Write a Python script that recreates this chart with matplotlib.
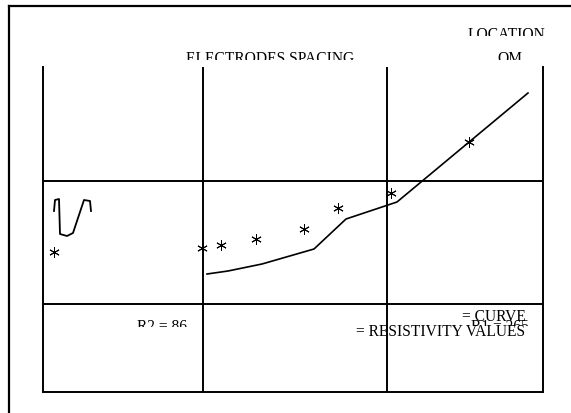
import matplotlib
matplotlib.use("Agg")
import matplotlib.pyplot as plt
from matplotlib.patches import Rectangle

plt.rcParams['font.family'] = ['Liberation Serif', 'DejaVu Serif']

# grid cells (chart units: x = spacing, y = resistivity, origin bottom-left)
col_edges = [160, 344]
row_edges = [88, 211]

# measured resistivity values (asterisks)
spacing_pts = [11, 159, 178, 213, 261, 295, 348, 426]
resist_pts = [140, 144, 147, 153, 163, 184, 199, 250]

# interpreted curve
curve_x = [164, 185, 219, 271, 303, 354, 485]
curve_y = [118, 121, 128, 143, 173, 190, 299]

# hand-drawn mark in the first cell
mark_x = [11, 12, 16, 17, 24, 30, 37, 41, 47, 48]
mark_y = [181, 192, 193, 158, 156, 159, 180, 192, 191, 181]

W, H = 571, 414
FS = 11.2
fig = plt.figure(figsize=(W / 100, H / 100), dpi=100)

ax = fig.add_axes([43 / W, 21 / H, 500 / W, 325 / H])
ax.set_xlim(0, 500)
ax.set_ylim(0, 325)
ax.set_xticks([])
ax.set_yticks([])
ax.spines['top'].set_visible(False)
for s in ['left', 'right', 'bottom']:
    ax.spines[s].set_linewidth(1.4)
for x in col_edges:
    ax.axvline(x, color='black', lw=1.4)
for y in row_edges:
    ax.axhline(y, color='black', lw=1.4)

ax.plot(curve_x, curve_y, color='black', lw=1.2)
ax.plot(mark_x, mark_y, color='black', lw=1.3)
ax.plot(spacing_pts, resist_pts, ls='none', marker=(6, 2, 0), ms=7.5,
        mec='black', mew=0.7, color='black')

# overlay in pixel units for the page frame and the text boxes
ov = fig.add_axes([0, 0, 1, 1])
ov.set_xlim(0, W)
ov.set_ylim(H, 0)
ov.axis('off')
ov.plot([9, W], [7, 7], color='black', lw=1.6)
ov.plot([9, 9], [7, H], color='black', lw=1.6)


def boxed_text(x, y, s, clip_y, ha='center'):
    t = ov.text(x, y, s, ha=ha, va='baseline', fontsize=FS, clip_on=True)
    r = Rectangle((0, 0), W, clip_y, transform=ov.transData, visible=False)
    ov.add_patch(r)
    t.set_clip_path(r)
    return t


boxed_text(506, 39, 'LOCATION', 37)
boxed_text(270, 63, 'ELECTRODES SPACING', 61)
boxed_text(510, 63, 'OM', 61)
boxed_text(162, 331, 'R2 = 86', 328)
boxed_text(500, 331, 'R1 = 265', 327)
ov.text(526, 321, '= CURVE', ha='right', va='baseline', fontsize=FS)
ov.text(525, 336, '= RESISTIVITY VALUES', ha='right', va='baseline', fontsize=FS)

fig.savefig('out.png', dpi=100)
